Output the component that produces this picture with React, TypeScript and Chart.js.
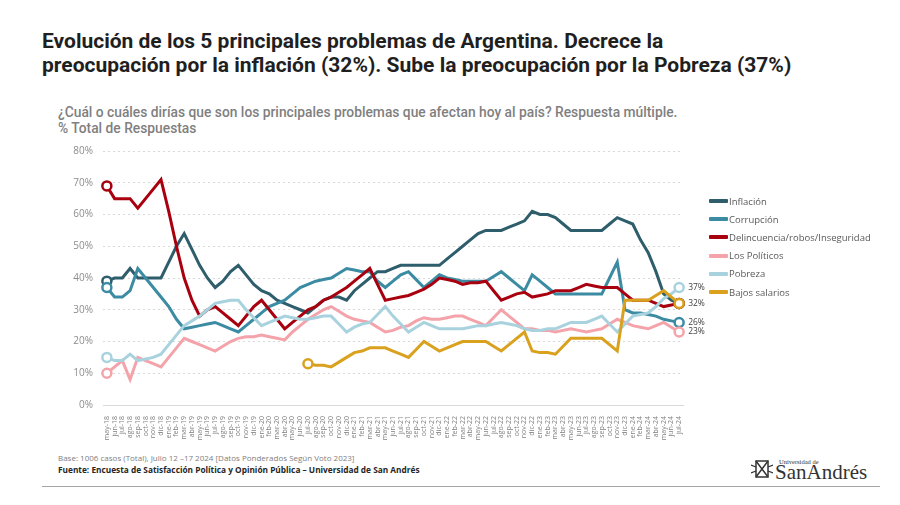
import React, { useEffect, useRef } from "react";
import { Chart, registerables } from "chart.js";
Chart.register(...registerables);

const LABELS = [
  "may-18","jun-18","jul-18","ago-18","sep-18","oct-18","nov-18","dic-18",
  "ene-19","feb-19","mar-19","abr-19","may-19","jun-19","jul-19","ago-19","sep-19","oct-19","nov-19","dic-19",
  "ene-20","feb-20","mar-20","abr-20","may-20","jun-20","jul-20","ago-20","sep-20","oct-20","nov-20","dic-20",
  "ene-21","feb-21","mar-21","abr-21","may-21","jun-21","jul-21","ago-21","sep-21","oct-21","nov-21","dic-21",
  "ene-22","feb-22","mar-22","abr-22","may-22","jun-22","jul-22","ago-22","sep-22","oct-22","nov-22","dic-22",
  "ene-23","feb-23","mar-23","abr-23","may-23","jun-23","jul-23","ago-23","sep-23","oct-23","nov-23","dic-23",
  "ene-24","feb-24","mar-24","abr-24","may-24","jun-24","jul-24"
];

const INFLACION = [39,40,40,43,40,40,40,40,45,50,54,49,44,40,37,39,42,44,41,38,36,35,33,32,31,30,29,31,33,34,34,33,36,38,40,42,42,43,44,44,44,44,44,44,46,48,50,52,54,55,55,55,56,57,58,61,60,60,59,57,55,55,55,55,55,57,59,58,57,52,48,42,35,33,32];
const CORRUPCION = [37,34,34,36,43,40,37,34,31,27,24,24.5,25,25.5,26,25,24,23,25,27,29,31,32,33,35,37,38,39,39.5,40,41.5,43,42.5,42,42,39,37,39,41,42,39.5,37,39,41,40,39.5,39,39,39,39,40.5,42,40,38,36,41,39,37,35,35,35,35,35,35,35,40,45,30,29,29,28.5,28,27,26.5,26];
const DELINCUENCIA = [69,65,65,65,62,65,68,71,61,50,40,33,28,30,31,29,27,25,28,31,33,30,27,24,26,28,30,31,33,34,35.5,37,39,41,43,38,33,33.5,34,34.5,35.5,36.5,38,40,39.5,39,38,38.5,38.5,39,36,33,34,35,35.5,34,34.5,35,36,36,36,37,38,37.5,37,37,37,35,33,33,33,32,31,31.5,32];
const POLITICOS = [10,12,14,8,15,14,13,12,15,18,21,20,19,18,17,18.5,20,21,21.5,21.5,22,21.5,21,20.5,23,25,27,28.5,30,31,29.5,28,27,26.5,26,24.5,23,23.5,24.5,25,26.5,27.5,27,27,27.5,28,28,27,26,25,27.5,30,28,26,24,24,23.5,23.5,23,23.5,24,23.5,23,23.5,24,25.5,27,26,25,24.5,24,25,26,24.5,23];
const POBREZA = [15,14,14,16,14,14.5,15,16,19,22,25,26.5,28,30,32,32.5,33,33,30,27.5,25,26,27,28,27.5,27,27,27.5,28,28,25.5,23,24.5,25.5,26,28.5,31,28,25.5,23,24.5,26,25,24,24,24,24,24.5,25,25,25.5,26,25.5,25,24,23.5,23.5,24,24,25,26,26,26,27,28,25.5,23,25.5,28,28.5,29,31,33.5,35,37];
const SALARIOS = [null,null,null,null,null,null,null,null,null,null,null,null,null,null,null,null,null,null,null,null,null,null,null,null,null,null,13,12.5,12.5,12,13.5,15,16.5,17,18,18,18,17,16,15,17.5,20,18.5,17,18,19,20,20,20,20,18.5,17,19,21,23,17,16.5,16.5,16,18.5,21,21,21,21,21,19,17,33,33,33,33,34.5,36,34,32];

const SERIES_NAMES = ["Inflación","Corrupción","Delincuencia/robos/Inseguridad","Los Políticos","Pobreza","Bajos salarios"];
const SERIES_COLORS = ["#2e5d6c","#3b8ba3","#a8000f","#f4a3aa","#a9d2df","#d9a11e"];
const SHOW_END_LABEL = [false,true,false,true,true,true];

const TITLE_LINES = [
  "Evolución de los 5 principales problemas de Argentina. Decrece la",
  "preocupación por la inflación (32%). Sube la preocupación por la Pobreza (37%)"
];
const SUBTITLE_LINES = [
  "¿Cuál o cuáles dirías que son los principales problemas que afectan hoy al país? Respuesta múltiple.",
  "% Total de Respuestas"
];
const BASE_TEXT = "Base: 1006 casos (Total), Julio 12 –17 2024 [Datos Ponderados Según Voto 2023]";
const SOURCE_TEXT = "Fuente: Encuesta de Satisfacción Política y Opinión Pública – Universidad de San Andrés";

export default function App() {
  const ref = useRef<HTMLCanvasElement>(null);

  useEffect(() => {
    document.body.style.margin = "0";
    const series = [INFLACION, CORRUPCION, DELINCUENCIA, POLITICOS, POBREZA, SALARIOS];
    const firstIdx = (d: (number | null)[]) => d.findIndex((v) => v !== null);

    const endLabels = {
      id: "endLabels",
      afterDatasetsDraw(chart: any) {
        const ctx = chart.ctx;
        ctx.save();
        ctx.font = "8.5px 'Open Sans'";
        ctx.fillStyle = "#404040";
        ctx.textBaseline = "middle";
        ctx.textAlign = "left";
        chart.data.datasets.forEach((ds: any, k: number) => {
          if (!SHOW_END_LABEL[k]) return;
          const meta = chart.getDatasetMeta(k);
          const n = ds.data.length - 1;
          const pt = meta.data[n];
          ctx.fillText(`${Math.round(ds.data[n])}%`, pt.x + 9, pt.y);
        });
        ctx.restore();
      },
    };

    const chart = new Chart(ref.current as HTMLCanvasElement, {
      type: "line",
      data: {
        labels: LABELS,
        datasets: series.map((d, k) => ({
          label: SERIES_NAMES[k],
          data: d,
          borderColor: SERIES_COLORS[k],
          backgroundColor: "#ffffff",
          borderWidth: 3,
          tension: 0,
          order: -k,
          pointRadius: (c: any) => (c.dataIndex === firstIdx(d) || c.dataIndex === d.length - 1 ? 4.5 : 0),
          pointBorderWidth: 2.5,
          pointBackgroundColor: "#ffffff",
          pointBorderColor: SERIES_COLORS[k],
          pointHoverRadius: 0,
          spanGaps: false,
        })),
      },
      options: {
        animation: false,
        responsive: false,
        events: [],
        layout: { padding: { top: 10, right: 77, left: 0, bottom: 0 } },
        plugins: { legend: { display: false }, tooltip: { enabled: false } },
        scales: {
          x: {
            offset: true,
            grid: { display: false },
            border: { display: true, color: "#d9d9d9", width: 1 },
            ticks: {
              autoSkip: false,
              maxRotation: 90,
              minRotation: 90,
              font: { size: 7, family: "'Open Sans'" },
              color: "#808080",
              padding: 3,
            },
            afterFit: (s: any) => { s.height = 45; },
          },
          y: {
            min: 0,
            max: 80,
            ticks: {
              stepSize: 10,
              callback: (v: any) => v + "%",
              font: { size: 10, family: "'Open Sans'" },
              color: "#8c8c8c",
              padding: 10,
            },
            grid: { color: "#d9d9d9", drawTicks: false, lineWidth: 1 },
            border: { display: false, dash: [2, 3] },
            afterFit: (s: any) => { s.width = 63; },
          },
        },
      },
      plugins: [endLabels],
    });
    return () => chart.destroy();
  }, []);

  return (
    <div style={{ position: "relative", width: 900, height: 505, background: "#fff", overflow: "hidden", fontFamily: "'Open Sans', sans-serif" }}>
      <div style={{ position: "absolute", left: 42, top: 29, fontFamily: "Roboto, sans-serif", fontWeight: 700, fontSize: 21, lineHeight: "24px", color: "#1f1f1f", whiteSpace: "nowrap" }}>
        {TITLE_LINES.map((t, i) => <div key={i}>{t}</div>)}
      </div>
      <div style={{ position: "absolute", left: 58, top: 104, fontFamily: "Roboto, sans-serif", fontWeight: 500, fontSize: 13.8, lineHeight: "16px", color: "#7f7f7f", whiteSpace: "nowrap" }}>
        {SUBTITLE_LINES.map((t, i) => <div key={i}>{t}</div>)}
      </div>
      <canvas ref={ref} width={720} height={315} style={{ position: "absolute", left: 40, top: 135, width: 720, height: 315 }} />
      <div style={{ position: "absolute", left: 709, top: 192 }}>
        {SERIES_NAMES.map((n, k) => (
          <div key={k} style={{ display: "flex", alignItems: "center", height: 18.2 }}>
            <div style={{ width: 19, height: 4, background: SERIES_COLORS[k], borderRadius: 1 }} />
            <span style={{ fontSize: 9.5, color: "#595959", marginLeft: 1, whiteSpace: "nowrap" }}>{n}</span>
          </div>
        ))}
      </div>
      <div style={{ position: "absolute", left: 58, top: 452, fontSize: 8, color: "#808080", whiteSpace: "nowrap" }}>{BASE_TEXT}</div>
      <div style={{ position: "absolute", left: 58, top: 464, fontSize: 8.3, fontWeight: 700, color: "#262626", whiteSpace: "nowrap" }}>{SOURCE_TEXT}</div>
      <div style={{ position: "absolute", left: 42, top: 486, width: 838, height: 1, background: "#a6a6a6" }} />
      <svg style={{ position: "absolute", left: 751, top: 459 }} width={22} height={20} viewBox="0 0 22 20">
        <rect x={5} y={2} width={12} height={16} fill="none" stroke="#333" strokeWidth={1.5} />
        <path d="M5 2 L17 18 M17 2 L5 18" stroke="#333" strokeWidth={1.5} />
        <path d="M0 6 L5 8 M0 14 L5 12 M22 6 L17 8 M22 14 L17 12" stroke="#333" strokeWidth={1.2} />
      </svg>
      <div style={{ position: "absolute", left: 779, top: 458, fontFamily: "'Liberation Serif', serif", fontSize: 6.5, color: "#333", whiteSpace: "nowrap" }}>Universidad de</div>
      <div style={{ position: "absolute", left: 775, top: 461, fontFamily: "'Liberation Serif', serif", fontSize: 21, color: "#333", whiteSpace: "nowrap", lineHeight: "22px" }}>SanAndrés</div>
    </div>
  );
}
